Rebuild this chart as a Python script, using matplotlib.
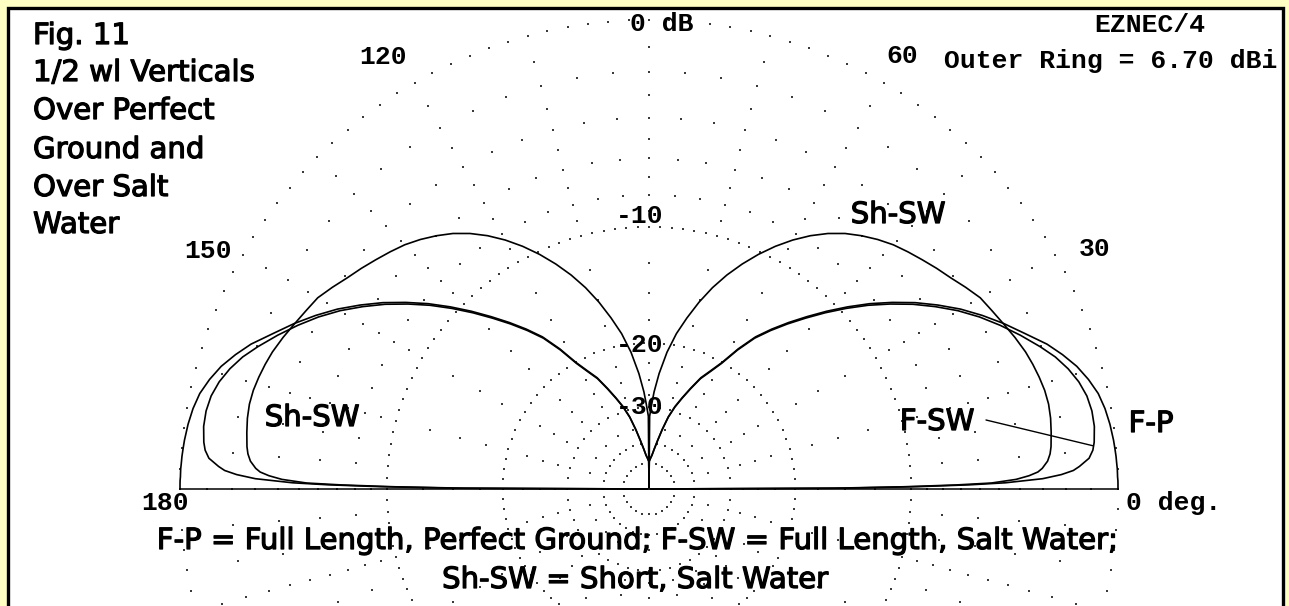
import numpy as np
import matplotlib
matplotlib.use("Agg")
import matplotlib.pyplot as plt
import matplotlib.patheffects as pe
from matplotlib.patches import Rectangle

# elevation angles (deg) and gain relative to outer ring (dB)
elev = [0, 0.25, 0.5, 0.75, 1, 1.5, 2, 2.5, 3, 4, 5, 6, 8, 10, 12, 14, 16,
        18, 20, 22.5, 25, 27.5, 30, 32.5, 35, 37.5, 40, 42.5, 45, 47.5, 50,
        52.5, 55, 57.5, 60, 62.5, 65, 67.5, 70, 72.5, 75, 77.5, 80, 82.5, 85,
        87, 88, 89, 89.5, 90]

gain_fp = [0, 0, 0, 0, 0, -0.01, -0.01, -0.01, -0.02, -0.03, -0.05, -0.07,
           -0.13, -0.22, -0.36, -0.6, -0.9, -1.3, -1.75, -2.45, -3.1, -3.8,
           -4.55, -5.4, -6.3, -7.3, -8.35, -9.5, -10.7, -11.95, -13.2, -14.5,
           -15.9, -17.8, -20.0, -21.6, -23.0, -25.0, -27.0, -29.0, -31.5,
           -35.0, -38.7, -42.0, -45.0, -46.5, -47.3, -48.0, -48.5, -99]

gain_fsw = [-99, -15, -9.5, -6.5, -4.7, -3.0, -2.2, -1.7, -1.45, -1.05,
            -0.88, -0.8, -0.72, -0.72, -0.8, -0.98, -1.25, -1.6, -2.05,
            -2.65, -3.28, -3.95, -4.7, -5.55, -6.45, -7.45, -8.5, -9.65,
            -10.85, -12.1, -13.35, -14.65, -16.05, -17.95, -20.15, -21.75,
            -23.15, -25.15, -27.15, -29.15, -31.65, -35.15, -38.85, -42.15,
            -45.15, -46.65, -47.45, -48.15, -48.65, -99]

gain_shsw = [-99, -16, -10.5, -7.3, -5.4, -4.2, -3.6, -3.2, -3.0, -2.75,
             -2.62, -2.55, -2.47, -2.4, -2.37, -2.4, -2.48, -2.58, -2.7,
             -2.9, -3.12, -3.32, -3.5, -3.82, -4.15, -4.42, -4.7, -4.97,
             -5.25, -5.6, -6.0, -6.45, -7.0, -7.65, -8.4, -9.25, -10.2,
             -11.25, -12.4, -13.7, -15.2, -16.9, -18.7, -21.0, -24.0, -27.0,
             -29.0, -31.0, -32.0, -99]

ring_major = [0, -10, -20, -30, -40, -50]
ring_dots = [144, 144, 90, 48, 36, 24]
ring_minor = [-2, -4, -6, -8]
spoke_db = [-1, -2, -3, -4, -5, -6, -7, -8, -9, -12.5, -15, -17.5, -22.5,
            -25, -27.5, -35]
angle_labels = ["0 deg.", "30", "60", "120", "150", "180"]
db_labels = ["0 dB", "-10", "-20", "-30"]
title_lines = ["Fig. 11", "1/2 wl Verticals", "Over Perfect", "Ground and",
               "Over Salt", "Water"]


def arrl(db):
    # ARRL log scale: radius shrinks by 0.89 for every 2 dB
    return 0.89 ** (-np.asarray(db, dtype=float) / 2.0)


W, H = 1289, 606
cx, cy, R = 649, 489, 469

fig = plt.figure(figsize=(W / 100, H / 100), dpi=100)
fig.patch.set_facecolor("#ffffc4")
fig.patches.append(Rectangle((8 / W, -0.01), (1283 - 8) / W, 1 - 8 / H + 0.01,
                             transform=fig.transFigure, facecolor="white",
                             edgecolor="black", linewidth=2.4, zorder=-5))

ax = fig.add_axes([0, 0, 1, 1])
ax.set_xlim(-cx / R, (W - cx) / R)
ax.set_ylim(-(H - cy) / R, cy / R)
ax.set_aspect("equal")
ax.patch.set_alpha(0)
ax.axis("off")
ax.set_zorder(2)

dot_kw = dict(linestyle="none", marker="s", markersize=1.5, color="#3a3a3a",
              markeredgewidth=0)

# dotted rings
for db, n in zip(ring_major, ring_dots):
    t = np.linspace(0, 2 * np.pi, n, endpoint=False)
    ax.plot(arrl(db) * np.cos(t), arrl(db) * np.sin(t), **dot_kw)
for db in ring_minor:
    t = np.radians(np.arange(0, 360, 5))
    ax.plot(arrl(db) * np.cos(t), arrl(db) * np.sin(t), **dot_kw)

# dotted spokes every 15 deg
for a in np.radians(np.arange(0, 360, 15)):
    r = arrl(spoke_db)
    ax.plot(r * np.cos(a), r * np.sin(a), **dot_kw)

# baseline
ax.plot([-1, 1], [0, 0], color="black", linewidth=1.1)

# patterns, mirrored about the zenith
e = np.asarray(elev)
az = np.radians(np.concatenate([e, 180 - e[::-1]]))
for g in (gain_fp, gain_fsw, gain_shsw):
    g = np.asarray(g)
    r = arrl(np.concatenate([g, g[::-1]]))
    ax.plot(r * np.cos(az), r * np.sin(az), color="black", linewidth=1.2)

# leader line for F-SW
ax.annotate("", xy=((1092.7 - cx) / R, (cy - 445.7) / R),
            xytext=((986 - cx) / R, (cy - 420) / R),
            arrowprops=dict(arrowstyle="-", color="black", linewidth=1.0,
                            shrinkA=0, shrinkB=0))


def fx(x):
    return x / W


def fy(y):
    return 1 - y / H


mono = dict(family="Liberation Mono", weight="bold", fontsize=19,
            va="center", ha="center", zorder=3)
fig.text(fx(662), fy(24), db_labels[0], **mono)
fig.text(fx(640), fy(216), db_labels[1], **mono)
fig.text(fx(640), fy(345), db_labels[2], **mono)
fig.text(fx(640), fy(407), db_labels[3], **mono)
fig.text(fx(1174), fy(503), angle_labels[0], **mono)
fig.text(fx(1095), fy(249), angle_labels[1], **mono)
fig.text(fx(902), fy(56), angle_labels[2], **mono)
fig.text(fx(383), fy(57), angle_labels[3], **mono)
fig.text(fx(208), fy(251), angle_labels[4], **mono)
fig.text(fx(165), fy(503), angle_labels[5], **mono)
fig.text(fx(1150), fy(25), "EZNEC/4", **mono)
fig.text(fx(1111), fy(61), "Outer Ring = 6.70 dBi", **mono)

heavy = [pe.withStroke(linewidth=0.9, foreground="black")]
sans = dict(family="DejaVu Sans", fontsize=21, va="center", ha="center",
            zorder=3, path_effects=heavy)
for line, y in zip(title_lines, [33, 70, 108, 147, 185, 222]):
    fig.text(fx(33), fy(y), line, family="DejaVu Sans", fontsize=21,
             va="center_baseline", ha="left", zorder=3, path_effects=heavy)
fig.text(fx(898), fy(215), "Sh-SW", **sans)
fig.text(fx(312), fy(418), "Sh-SW", **sans)
fig.text(fx(937), fy(422), "F-SW", **sans)
fig.text(fx(1151), fy(424), "F-P", **sans)
fig.text(fx(637), fy(541), "F-P = Full Length, Perfect Ground; F-SW = Full Length, Salt Water;", **sans)
fig.text(fx(635), fy(580), "Sh-SW = Short, Salt Water", **sans)

fig.savefig("out.png", dpi=100, facecolor=fig.get_facecolor())
